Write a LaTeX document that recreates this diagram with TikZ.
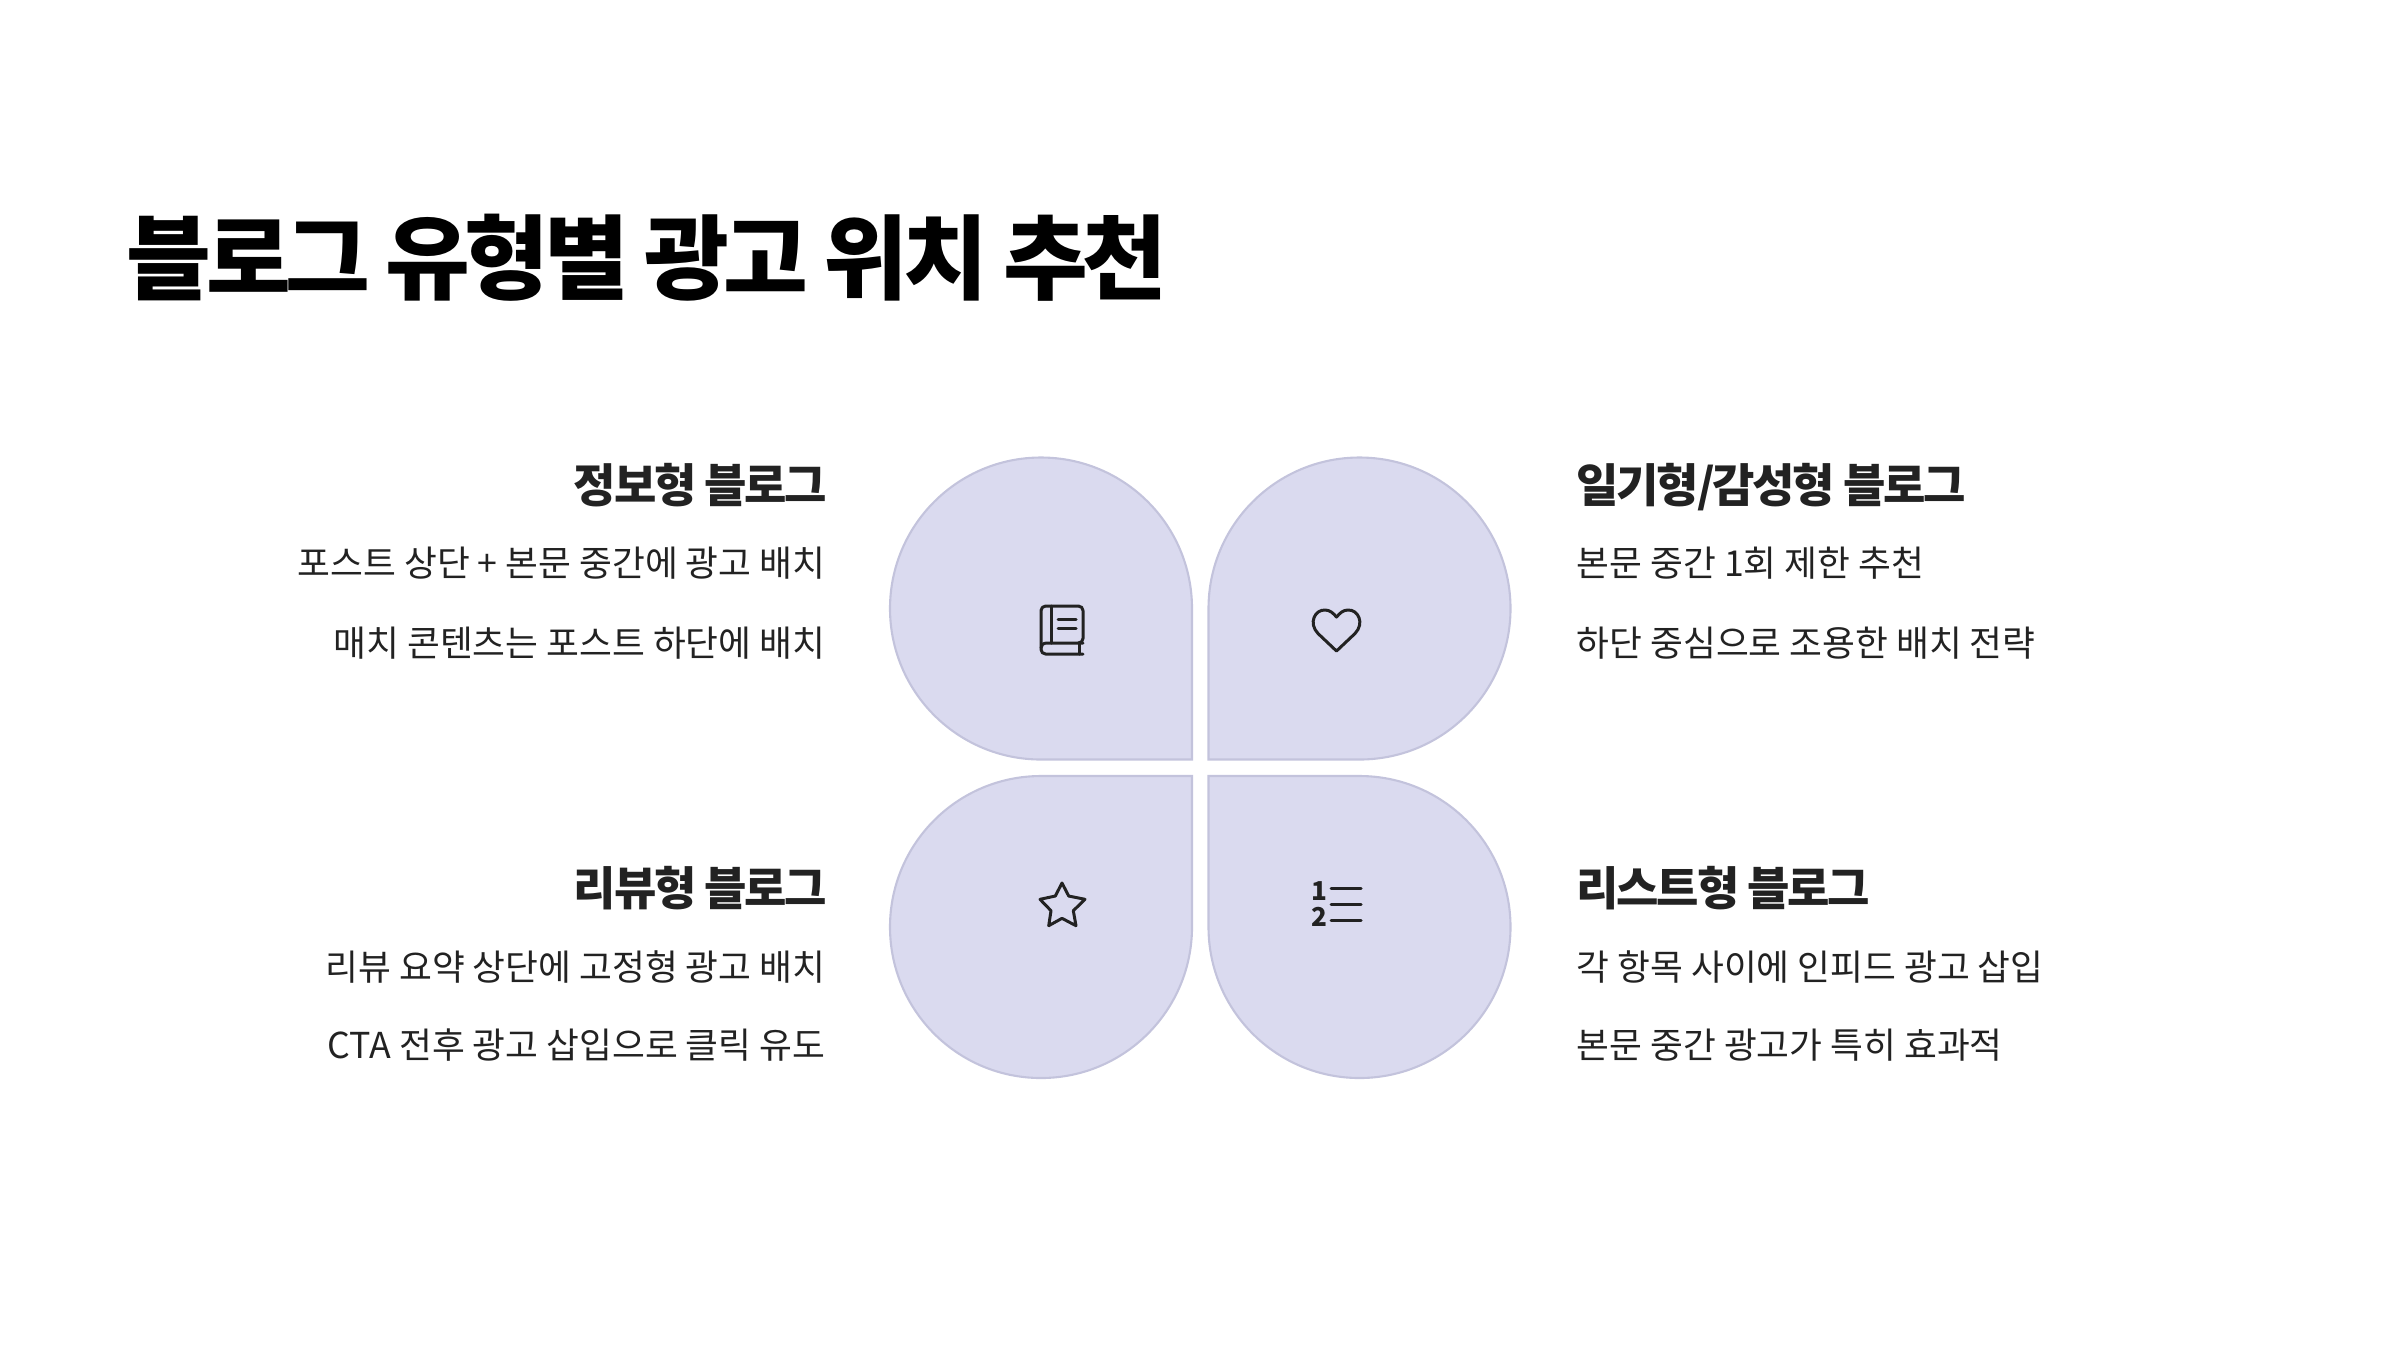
\documentclass[tikz,border=0pt]{standalone}
\usepackage{fontspec}
\setmainfont{Noto Sans CJK KR}
\newfontfamily\titlefont[LetterSpace=-6]{Noto Sans CJK KR}
\newfontfamily\headfont[LetterSpace=-5]{Noto Sans CJK KR}
\definecolor{petalfill}{HTML}{DADAEF}
\definecolor{petalline}{HTML}{C3C3DC}
\definecolor{inkdark}{HTML}{222222}
\begin{document}
\begin{tikzpicture}[
  x=0.01cm, y=-0.01cm,
  titlelbl/.style={font=\titlefont\fontsize{26.2}{30}\selectfont\bfseries, text=black, anchor=mid west, inner sep=0pt},
  headl/.style={font=\headfont\fontsize{13.1}{16}\selectfont\bfseries, text=inkdark, anchor=mid east, inner sep=0pt},
  headr/.style={font=\headfont\fontsize{13.1}{16}\selectfont\bfseries, text=inkdark, anchor=mid west, inner sep=0pt},
  bodyl/.style={font=\fontsize{10.15}{12}\selectfont, text=inkdark, anchor=mid east, inner sep=0pt},
  bodyr/.style={font=\fontsize{10.15}{12}\selectfont, text=inkdark, anchor=mid west, inner sep=0pt},
  petal/.style={draw=petalline, fill=petalfill, line width=0.6pt, line join=miter},
  icon/.style={draw=inkdark, line width=0.85pt, line join=round, line cap=round},
  digit/.style={font=\fontsize{7.4}{8}\selectfont\bfseries, text=inkdark, inner sep=0pt},
]
\useasboundingbox (0,0) rectangle (2400,1350);

% --- Title ---
\node[titlelbl] (title) at (126, 283) {블로그 유형별 광고 위치 추천};

% --- Petals ---
\draw[petal] (1192,759.5) -- (1041,759.5) arc[start angle=90, end angle=360, radius=151] -- cycle;
\draw[petal] (1208.5,759.5) -- (1208.5,608.5) arc[start angle=180, end angle=450, radius=151] -- cycle;
\draw[petal] (1192,776) -- (1192,927) arc[start angle=0, end angle=270, radius=151] -- cycle;
\draw[petal] (1208.5,776) -- (1359.5,776) arc[start angle=-90, end angle=180, radius=151] -- cycle;

% --- Left column ---
\node[headl] (infohead) at (828, 493) {정보형 블로그};
\node[bodyl] (infoa) at (826, 567) {포스트 상단 + 본문 중간에 광고 배치};
\node[bodyl] (infob) at (826, 647) {매치 콘텐츠는 포스트 하단에 배치};
\node[headl] (reviewhead) at (828, 896) {리뷰형 블로그};
\node[bodyl] (reviewa) at (826, 971) {리뷰 요약 상단에 고정형 광고 배치};
\node[bodyl] (reviewb) at (826, 1049) {CTA 전후 광고 삽입으로 클릭 유도};

% --- Right column ---
\node[headr] (diaryhead) at (1576, 493) {일기형/감성형 블로그};
\node[bodyr] (diarya) at (1576, 567) {본문 중간 1회 제한 추천};
\node[bodyr] (diaryb) at (1576, 647) {하단 중심으로 조용한 배치 전략};
\node[headr] (listhead) at (1576, 896) {리스트형 블로그};
\node[bodyr] (lista) at (1576, 971) {각 항목 사이에 인피드 광고 삽입};
\node[bodyr] (listb) at (1576, 1049) {본문 중간 광고가 특히 효과적};

% --- Icons ---
% book
\draw[icon, rounded corners=1.3pt] (1079,643) -- (1083,643) -- (1083,606) -- (1041,606) -- (1041,654) -- (1083,654);
\draw[icon] (1051,606) -- (1051,643);
\draw[icon] (1083,643) -- (1047,643) .. controls (1043,643) and (1041,645) .. (1041,648);
\draw[icon] (1079,643) -- (1079,654);
\draw[icon] (1058,619) -- (1076,619);
\draw[icon] (1058,628) -- (1076,628);
% heart
\draw[icon] (1336.5,651) -- (1318,633.5) .. controls (1308,623) and (1315,609.5) .. (1325,610)
  .. controls (1330,610) and (1333,613) .. (1336.5,617) .. controls (1340,613) and (1343,610) .. (1348,610)
  .. controls (1358,609.5) and (1365,623) .. (1355,633.5) -- cycle;
% star
\draw[icon] (1062,883) -- (1068.7,896) -- (1085,899.3) -- (1073.3,910.7) -- (1076,925.7) -- (1062,918.3)
  -- (1048.7,925.7) -- (1051,910.7) -- (1040,899.3) -- (1055.3,896) -- cycle;
% numbered list
\node[digit] (one) at (1319, 891) {1};
\node[digit] (two) at (1319, 917) {2};
\draw[icon] (1331,888) -- (1361,888);
\draw[icon] (1331,904) -- (1361,904);
\draw[icon] (1331,920) -- (1361,920);
\end{tikzpicture}
\end{document}
